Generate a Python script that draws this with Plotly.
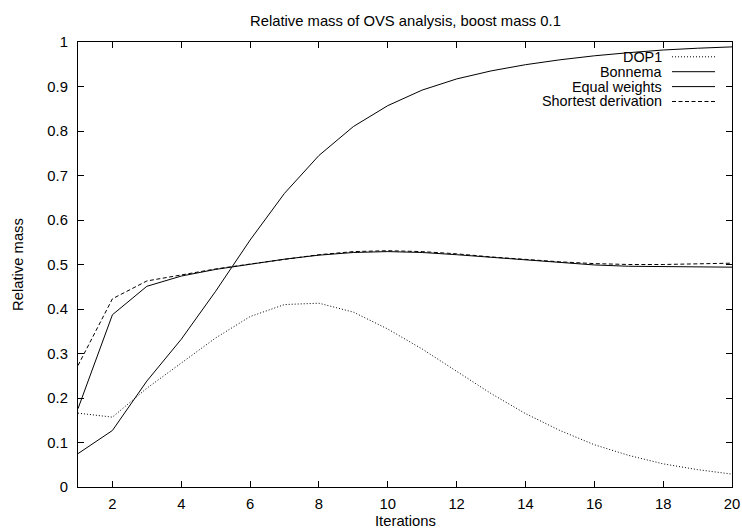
import plotly.graph_objects as go

# ---- data ----
iterations = list(range(1, 21))

dop1 = [0.166, 0.157, 0.222, 0.278, 0.335, 0.383, 0.410, 0.413, 0.393, 0.355,
        0.310, 0.260, 0.210, 0.165, 0.127, 0.095, 0.071, 0.052, 0.039, 0.029]
bonnema = [0.075, 0.127, 0.238, 0.332, 0.440, 0.555, 0.660, 0.745, 0.810, 0.857,
           0.892, 0.917, 0.935, 0.949, 0.960, 0.969, 0.976, 0.982, 0.986, 0.989]
equal_weights = [0.176, 0.387, 0.451, 0.474, 0.489, 0.501, 0.512, 0.521, 0.527, 0.529,
                 0.527, 0.522, 0.516, 0.510, 0.504, 0.499, 0.496, 0.495, 0.494, 0.494]
shortest_derivation = [0.273, 0.423, 0.463, 0.477, 0.490, 0.501, 0.512, 0.522, 0.529, 0.531,
                       0.529, 0.524, 0.517, 0.511, 0.506, 0.502, 0.500, 0.500, 0.501, 0.503]

series_names = ["DOP1", "Bonnema", "Equal weights", "Shortest derivation"]
series_values = [dop1, bonnema, equal_weights, shortest_derivation]
series_dash = ["1px,2px", "solid", "solid", "4px,2.5px"]

x_tickvals = [2, 4, 6, 8, 10, 12, 14, 16, 18, 20]
x_ticktext = ["2", "4", "6", "8", "10", "12", "14", "16", "18", "20"]
y_tickvals = [0, 0.1, 0.2, 0.3, 0.4, 0.5, 0.6, 0.7, 0.8, 0.9, 1]
y_ticktext = ["0", "0.1", "0.2", "0.3", "0.4", "0.5", "0.6", "0.7", "0.8", "0.9", "1"]

title_text = "Relative mass of OVS analysis, boost mass 0.1"
x_title = "Iterations"
y_title = "Relative mass"

FONT = "Liberation Sans, Arial, Helvetica, sans-serif"
FS = 14.8
LEG_FS = 14.4

fig = go.Figure()
for name, vals, dash in zip(series_names, series_values, series_dash):
    fig.add_trace(go.Scatter(
        x=iterations, y=vals, mode="lines", name=name, showlegend=False,
        line=dict(color="black", width=1, dash=dash),
    ))

W, H = 742, 531
ml, mr, mt, mb = 78, 10, 42, 44
pw, ph = W - ml - mr, H - mt - mb

# manual gnuplot-style legend (text right-aligned, sample to the right)
annotations = []
shapes = []
row0_px = 56.8
row_step = 14.9
text_right_px = 663.0
samp_x0_px, samp_x1_px = 672.0, 715.0
for i, (name, dash) in enumerate(zip(series_names, series_dash)):
    ypx = row0_px + i * row_step
    yp = (H - mb - ypx) / ph
    annotations.append(dict(
        text=name, xref="paper", yref="paper",
        x=(text_right_px - ml) / pw, y=yp, xanchor="right", yanchor="middle",
        showarrow=False, font=dict(family=FONT, size=LEG_FS, color="black"),
        borderpad=0,
    ))
    shapes.append(dict(
        type="line", xref="paper", yref="paper",
        x0=(samp_x0_px - ml) / pw, x1=(samp_x1_px - ml) / pw, y0=yp, y1=yp,
        line=dict(color="black", width=1, dash=dash),
    ))

# axis titles and chart title
annotations.append(dict(
    text=x_title, xref="paper", yref="paper", x=0.5, y=-(521 - (H - mb)) / ph,
    xanchor="center", yanchor="middle", showarrow=False,
    font=dict(family=FONT, size=FS, color="black"), borderpad=0,
))
annotations.append(dict(
    text=y_title, xref="paper", yref="paper", x=-(ml - 18) / pw, y=(H - mb - 265) / ph,
    xanchor="center", yanchor="middle", showarrow=False, textangle=-90,
    font=dict(family=FONT, size=FS, color="black"), borderpad=0,
))
annotations.append(dict(
    text=title_text, xref="paper", yref="paper", x=0.5, y=(H - mb - 21) / ph,
    xanchor="center", yanchor="middle", showarrow=False,
    font=dict(family=FONT, size=FS, color="black"), borderpad=0,
))

axis_common = dict(
    showgrid=False, zeroline=False, showline=True, linecolor="black", linewidth=1.3,
    mirror="allticks", ticks="inside", ticklen=6, tickwidth=1, tickcolor="black",
    tickfont=dict(family=FONT, size=FS, color="black"), automargin=False,
)

fig.update_layout(
    width=W, height=H, autosize=False,
    margin=dict(l=ml, r=mr, t=mt, b=mb, pad=0, autoexpand=False),
    paper_bgcolor="white", plot_bgcolor="white",
    xaxis=dict(range=[1, 20], tickmode="array", tickvals=x_tickvals, ticktext=x_ticktext,
               ticklabelstandoff=3, **axis_common),
    yaxis=dict(range=[0, 1], tickmode="array", tickvals=y_tickvals, ticktext=y_ticktext,
               ticklabelstandoff=6, **axis_common),
    annotations=annotations, shapes=shapes, showlegend=False,
    font=dict(family=FONT, size=FS, color="black"),
)

fig.write_html(
    "out.html",
    config={"displayModeBar": False, "responsive": False},
    post_script="document.body.style.margin='0px';document.body.style.padding='0px';"
                "document.body.style.overflow='hidden';",
)
